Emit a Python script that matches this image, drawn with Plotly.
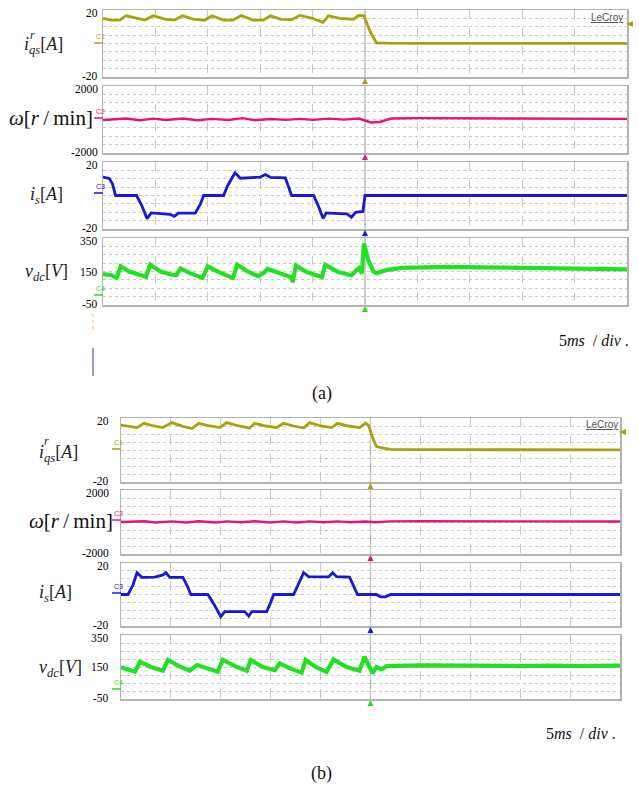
import plotly.graph_objects as go

W, H = 639, 793

# ---------------- data (time in ms, 5 ms/div, 10 div) ----------------
# Panel (a)
a_iqs_t = [0, 0.8, 1.6, 2.2, 3.2, 4.0, 4.8, 5.9, 6.8, 7.6, 8.6, 9.7, 10.4, 11.5, 12.4, 13.2, 14.3, 15.3,
           16.0, 17.0, 18.0, 18.8, 20.0, 21.0, 21.5, 22.6, 23.9, 24.4, 24.9, 25.5, 26.1, 27.0, 30, 35, 40, 45, 50]
a_iqs_v = [15.0, 14.0, 14.0, 16.6, 15.2, 14.0, 16.6, 14.5, 14.0, 16.6, 14.6, 13.9, 16.6, 14.0, 14.0, 16.7,
           14.0, 14.0, 16.5, 14.4, 14.2, 16.8, 15.0, 12.6, 16.5, 15.0, 14.5, 16.8, 16.5, 7.0, 0.4, 0.2,
           0.1, 0.2, 0.1, 0.2, 0.1]
a_spd_t = [0, 2.2, 3.5, 4.8, 6.0, 7.6, 9.0, 10.4, 12.0, 13.3, 14.5, 16.0, 17.5, 18.8, 20.0, 21.5, 23.0,
           24.4, 25.0, 25.6, 26.4, 27.5, 30, 35, 40, 45, 50]
a_spd_v = [-30, 60, -40, 50, -30, 60, -40, 40, -30, 80, -40, 30, -20, 40, -20, 50, -10, 60, -60, -180,
           -150, 60, 80, 70, 60, 50, 40]
a_is_t = [0, 0.6, 0.9, 1.2, 3.2, 3.7, 4.2, 4.6, 5.5, 6.4, 6.8, 7.2, 8.8, 9.3, 9.6, 11.5, 11.9, 12.6, 13.1,
          14.0, 15.0, 15.5, 16.0, 17.4, 17.7, 18.0, 20.1, 20.6, 21.0, 21.3, 22.5, 23.3, 23.7, 24.1, 24.8,
          25.0, 50]
a_is_v = [11.0, 10.2, 7.0, 0, 0, -6, -13.8, -10.4, -10.8, -11.2, -12.5, -10.5, -10.5, -5, 0, 0, 6, 13.6,
          10.3, 10.5, 11.0, 12.5, 10.8, 10.5, 5, 0, 0, -7, -13.8, -10.4, -10.8, -11.0, -13.0, -10.0, -9.5,
          0, 0]
a_vdc_t = [0, 0.8, 1.3, 1.7, 2.5, 3.5, 4.1, 4.5, 5.5, 6.5, 7.0, 7.4, 8.3, 9.5, 10.0, 11.0, 12.4, 12.8,
           13.8, 14.8, 15.3, 15.7, 16.8, 18.0, 18.1, 18.4, 19.5, 20.9, 21.2, 22.5, 23.7, 24.4, 24.7, 24.9,
           25.3, 25.8, 26.1, 27.0, 28.5, 30, 33, 36, 40, 45, 50]
a_vdc_v = [135, 128, 112, 180, 150, 132, 118, 190, 150, 132, 128, 168, 140, 112, 180, 148, 112, 190, 150,
           122, 140, 165, 142, 115, 85, 185, 145, 117, 190, 145, 128, 170, 138, 318, 220, 150, 140, 158,
           172, 176, 178, 175, 172, 168, 163]

# Panel (b)
b_iqs_t = [0, 1.6, 2.3, 3.3, 4.2, 5.1, 6.2, 7.1, 7.8, 8.9, 9.9, 10.6, 11.8, 12.9, 13.4, 14.5, 15.6, 16.3,
           17.3, 18.3, 18.9, 20.0, 21.1, 21.7, 22.8, 23.9, 24.5, 24.8, 25.2, 25.6, 26.3, 27.0, 30, 35, 40, 45, 50]
b_iqs_v = [15.6, 14.0, 16.7, 15.0, 14.0, 17.1, 14.8, 13.4, 16.7, 15.0, 14.0, 17.1, 15.0, 13.7, 16.7, 15.0,
           14.0, 16.7, 15.0, 13.7, 17.1, 15.0, 14.0, 16.7, 15.0, 14.0, 16.7, 15.5, 8.0, 2.1, 1.2, 0.4,
           0.2, 0.1, 0.2, 0.1, 0.1]
b_spd_t = [0, 2.3, 3.5, 5.1, 6.5, 7.8, 9.5, 10.6, 12.0, 13.4, 15.0, 16.3, 17.6, 18.9, 20.3, 21.7, 23.0,
           24.5, 25.5, 27, 30, 35, 40, 45, 50]
b_spd_v = [0, 50, -30, 40, -30, 50, -30, 40, -20, 50, -30, 40, -30, 40, -20, 40, -20, 30, -20, 40, 50, 40,
           30, 40, 30]
b_is_t = [0, 0.7, 1.2, 1.6, 2.1, 3.4, 4.2, 4.5, 4.9, 6.2, 6.6, 7.0, 8.7, 9.3, 10.0, 10.4, 12.4, 12.8,
          13.1, 14.6, 15.0, 15.3, 17.3, 17.8, 18.3, 18.8, 20.8, 21.2, 21.6, 22.9, 23.3, 23.7, 25.6, 26.0,
          26.5, 27.0, 50]
b_is_v = [0, 0, 6, 13.8, 10.9, 11.0, 12.4, 13.8, 10.9, 10.9, 6, 0, 0, -6, -14.1, -10.9, -10.9, -13.7,
          -10.9, -10.9, -5, 0, 0, 7, 13.8, 11.3, 11.2, 13.8, 11.3, 11.0, 5, 0, 0, -1.5, -1.5, 0, 0]
b_vdc_t = [0, 1.4, 1.9, 3.0, 4.2, 4.7, 5.8, 6.9, 7.6, 8.6, 9.7, 10.2, 11.4, 12.6, 13.0, 14.2, 15.4, 15.9,
           17.0, 18.1, 18.5, 19.5, 20.6, 21.3, 22.6, 23.9, 24.4, 25.2, 25.6, 26.1, 26.6, 30, 33, 36, 40,
           43, 46, 50]
b_vdc_v = [148, 121, 183, 150, 127, 194, 155, 127, 162, 140, 121, 194, 155, 127, 194, 150, 130, 173, 140,
           115, 194, 150, 120, 197, 150, 127, 215, 110, 150, 135, 156, 160, 158, 160, 156, 158, 155, 158]

y_ranges = [(-20, 20), (-2000, 2000), (-20, 20), (-50, 350)]
y_top_text = ["20", "2000", "20", "350"]
y_bot_text = ["-20", "-2000", "-20", "-50"]
y_mid_text = [None, None, None, "150"]
colors = ["#a8a20e", "#e8127a", "#1818d6", "#22e022"]
widths = [2.8, 2.4, 2.8, 4.2]
ch_names = ["C1", "C2", "C3", "C4"]

panels = [
    dict(x0=103, x1=627, rows=[(10, 77), (86, 153), (162, 229), (238, 305)], lab_right=100,
         series=[(a_iqs_t, a_iqs_v), (a_spd_t, a_spd_v), (a_is_t, a_is_v), (a_vdc_t, a_vdc_v)],
         ch_y=[43, 118, 193, 295], ch_x=94,
         lab=[(22, 45, 28, 35), (7, 118), (28, 195), (23, 273)],
         lecroy=(607, 17), arrow=(630, 24), scale=(594, 340), title=(322, 393)),
    dict(x0=121, x1=620, rows=[(418, 482), (490, 554), (563, 626), (635, 699)], lab_right=111,
         series=[(b_iqs_t, b_iqs_v), (b_spd_t, b_spd_v), (b_is_t, b_is_v), (b_vdc_t, b_vdc_v)],
         ch_y=[449, 520, 593, 689], ch_x=112,
         lab=[(37, 453, 42, 441), (27, 521), (37, 593), (37, 668)],
         lecroy=(602, 424), arrow=(623, 432), scale=(581, 733), title=(322, 773)),
]

def px(x):
    return x / W

def py(y):
    return 1 - y / H

fig = go.Figure()
layout = {}
shapes = []
annotations = []
SERIF = "Liberation Serif"
GRID = "#c9c9c9"
FRAME = "#b3b3b3"


def label(text, x, y, size, xanchor="left", color="#222", family=SERIF):
    annotations.append(dict(text=text, xref="paper", yref="paper", x=px(x), y=py(y),
                            xanchor=xanchor, yanchor="middle", showarrow=False,
                            font=dict(family=family, size=size, color=color)))


k = 0
for p in panels:
    for r in range(4):
        k += 1
        top, bot = p["rows"][r]
        lo, hi = y_ranges[r]
        step = (hi - lo) / 8
        xs, ys = p["series"][r]
        fig.add_trace(go.Scatter(x=xs, y=ys, mode="lines", xaxis=f"x{k}", yaxis=f"y{k}",
                                 line=dict(color=colors[r], width=widths[r]), showlegend=False,
                                 hoverinfo="skip"))
        layout[f"xaxis{k}"] = dict(domain=[px(p["x0"]), px(p["x1"])], anchor=f"y{k}", range=[0, 50],
                                   dtick=5, tick0=0, showticklabels=False, ticks="",
                                   showgrid=True, gridcolor=GRID, griddash="dash", gridwidth=1,
                                   showline=True, mirror=True, linecolor=FRAME, linewidth=1.5,
                                   zeroline=False, fixedrange=True)
        layout[f"yaxis{k}"] = dict(domain=[py(bot), py(top)], anchor=f"x{k}", range=[lo, hi],
                                   tick0=lo, dtick=step, showticklabels=False, ticks="",
                                   showgrid=True, gridcolor=GRID, griddash="dot", gridwidth=1,
                                   showline=True, mirror=True, linecolor=FRAME, linewidth=1.5,
                                   zeroline=False, fixedrange=True)
        # value labels at the left edge (as on the scope print)
        label(y_top_text[r], p["lab_right"], top + 3, 11.5, xanchor="right", color="black")
        label(y_bot_text[r], p["lab_right"], bot - 1, 11.5, xanchor="right", color="black")
        if y_mid_text[r]:
            label(y_mid_text[r], p["lab_right"], (top + bot) / 2, 11.5, xanchor="right", color="black")
        # centre line with small crossing ticks (two overlay axes)
        cen = py((top + bot) / 2)
        for j, tk in enumerate(["outside", "inside"]):
            layout[f"xaxis{8 + k + 8 * j}"] = dict(overlaying=f"x{k}", anchor="free", position=cen,
                                                   range=[0, 50], dtick=1, tick0=0,
                                                   ticks=tk, ticklen=2, tickcolor="#a0a0a0",
                                                   showticklabels=False, showgrid=False,
                                                   showline=True, linecolor="#b0b0b0", linewidth=1,
                                                   zeroline=False, fixedrange=True)
        # trigger triangle under each row
        tx = (p["x0"] + p["x1"]) / 2
        ty = bot + 4
        shapes.append(dict(type="path", xref="paper", yref="paper",
                           path=f"M {px(tx-3)} {py(ty+3)} L {px(tx+3)} {py(ty+3)} L {px(tx)} {py(ty-3)} Z",
                           fillcolor=colors[r], line=dict(width=0)))
        # channel marker
        cy = p["ch_y"][r]
        shapes.append(dict(type="line", xref="paper", yref="paper", x0=px(p["ch_x"]),
                           x1=px(p["x0"]), y0=py(cy), y1=py(cy),
                           line=dict(color=colors[r], width=1.5)))
        annotations.append(dict(text=ch_names[r], xref="paper", yref="paper", x=px(p["ch_x"]),
                                y=py(cy - 1), xanchor="left", yanchor="bottom", showarrow=False,
                                font=dict(family="Liberation Sans", size=7, color=colors[r])))
    # trigger vertical line
    tx = (p["x0"] + p["x1"]) / 2
    shapes.append(dict(type="line", xref="paper", yref="paper", x0=px(tx), x1=px(tx),
                       y0=py(p["rows"][0][0]), y1=py(p["rows"][3][1] + 2), layer="below",
                       line=dict(color="#b0b0b0", width=1.2)))
    # right-side trigger-level arrow
    ax, ay = p["arrow"]
    shapes.append(dict(type="path", xref="paper", yref="paper",
                       path=f"M {px(ax-4)} {py(ay)} L {px(ax+3)} {py(ay-3)} L {px(ax+3)} {py(ay+3)} Z",
                       fillcolor=colors[0], line=dict(width=0)))
    # y labels
    l0 = p["lab"]
    label("<i>i</i><sub><i>qs</i></sub>[<i>A</i>]", l0[0][0], l0[0][1], 18)
    label("<i>r</i>", l0[0][2], l0[0][3], 12)
    label("<i>ω</i>[<i>r</i>\u2009/\u2009min]", l0[1][0], l0[1][1], 21, color="#111")
    label("<i>i</i><sub><i>s</i></sub>[<i>A</i>]", l0[2][0], l0[2][1], 18)
    label("<i>v</i><sub><i>dc</i></sub>[<i>V</i>]", l0[3][0], l0[3][1], 18)
    lx, ly = p["lecroy"]
    label("<u>LeCroy</u>", lx, ly, 10, xanchor="center", color="#555", family="Liberation Sans")
    sx, sy = p["scale"]
    label("5<i>ms</i>  / <i>div</i> .", sx, sy, 16, xanchor="center", color="#111")
    tx_, ty_ = p["title"]
    label("(a)" if p is panels[0] else "(b)", tx_, ty_, 18, xanchor="center", color="#111")

# stray probe markers at left of panel (a)
shapes.append(dict(type="line", xref="paper", yref="paper", x0=px(93), x1=px(93), y0=py(314),
                   y1=py(330), line=dict(color="#f5b060", width=1, dash="dot")))
shapes.append(dict(type="line", xref="paper", yref="paper", x0=px(93), x1=px(93), y0=py(348),
                   y1=py(376), line=dict(color="#3030d0", width=1)))

fig.update_layout(width=W, height=H, margin=dict(l=0, r=0, t=0, b=0),
                  paper_bgcolor="white", plot_bgcolor="rgba(0,0,0,0)",
                  shapes=shapes, annotations=annotations, showlegend=False, **layout)
fig.write_html("out.html", config={"displayModeBar": False, "staticPlot": True},
               post_script="document.body.style.margin='0';document.body.style.overflow='hidden';")
